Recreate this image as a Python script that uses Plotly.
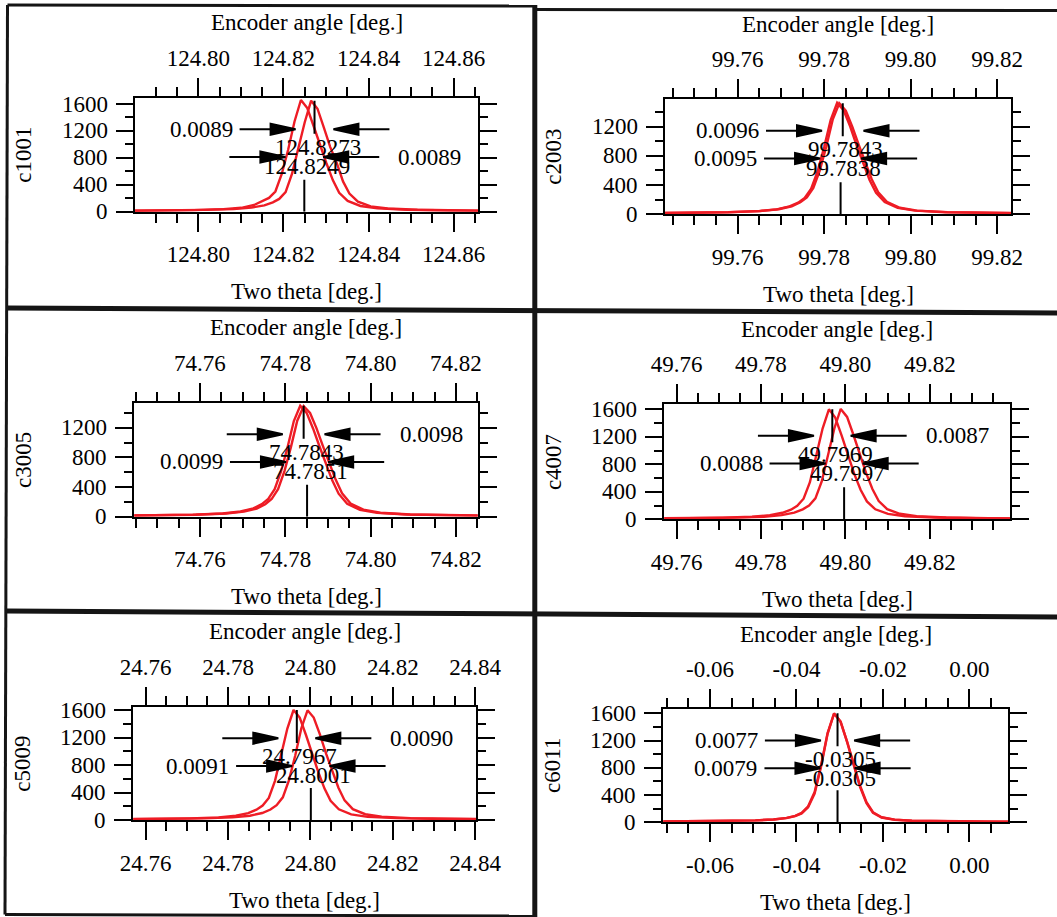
import plotly.graph_objects as go

W, H = 1057, 917

# ---------------------------------------------------------------- data
CHANNELS = ["c1001", "c2003", "c3005", "c4007", "c5009", "c6011"]

# fitted peak positions [deg.] (upper tag / lower tag)
PEAK_UPPER = [124.8273, 99.7843, 74.7843, 49.7969, 24.7967, -0.0305]
PEAK_LOWER = [124.8249, 99.7838, 74.7851, 49.7997, 24.8001, -0.0305]

# full widths at half maximum [deg.]
FWHM_UPPER = [0.0089, 0.0096, 0.0098, 0.0087, 0.0090, 0.0077]
FWHM_LOWER = [0.0089, 0.0095, 0.0099, 0.0088, 0.0091, 0.0079]

X_TICKS = [
    ["124.80", "124.82", "124.84", "124.86"],
    ["99.76", "99.78", "99.80", "99.82"],
    ["74.76", "74.78", "74.80", "74.82"],
    ["49.76", "49.78", "49.80", "49.82"],
    ["24.76", "24.78", "24.80", "24.82", "24.84"],
    ["-0.06", "-0.04", "-0.02", "0.00"],
]
Y_TICKS = [0, 400, 800, 1200, 1600]

X_RANGES = [
    [124.7851, 124.8658],
    [99.7432, 99.8232],
    [74.7446, 74.8251],
    [49.7571, 49.8390],
    [24.7570, 24.8402],
    [-0.0708, 0.0090],
]
Y_MAX = [1694, 1574, 1537, 1673, 1648, 1664]

# scan positions relative to the fitted peak position [deg.]
OFFSETS = [-0.046, -0.036, -0.026, -0.019, -0.0148, -0.0118, -0.0098, -0.0083,
           -0.0068, -0.0053, -0.0038, -0.0023, -0.0008, 0.0007, 0.0022, 0.0037,
           0.0052, 0.0067, 0.0082, 0.0102, 0.0132, 0.0172, 0.0242, 0.0342, 0.0442]

# counts of the scan tagged by the upper marker
COUNTS_UPPER = [
    [12, 18, 27, 40, 62, 95, 140, 190, 290, 560, 930, 1330, 1650, 1530, 1250, 960, 730, 450, 270, 150, 80, 48, 28, 17, 12],
    [14, 20, 30, 45, 70, 110, 165, 230, 360, 600, 930, 1300, 1520, 1420, 1200, 950, 710, 480, 300, 170, 90, 50, 30, 18, 12],
    [12, 18, 28, 44, 70, 112, 170, 240, 370, 610, 930, 1290, 1495, 1400, 1190, 950, 720, 490, 310, 175, 92, 52, 30, 18, 12],
    [10, 15, 24, 38, 60, 95, 140, 195, 300, 540, 910, 1320, 1600, 1480, 1220, 930, 660, 430, 260, 145, 78, 45, 27, 16, 10],
    [10, 15, 24, 38, 62, 100, 150, 210, 320, 570, 930, 1330, 1600, 1490, 1240, 960, 700, 460, 280, 155, 82, 46, 27, 16, 10],
    [8, 12, 18, 28, 42, 62, 90, 130, 220, 420, 820, 1300, 1600, 1480, 1180, 830, 520, 280, 140, 70, 38, 22, 14, 10, 8],
]
# counts of the scan tagged by the lower marker
COUNTS_LOWER = [
    [10, 15, 24, 38, 58, 100, 160, 205, 300, 560, 920, 1340, 1660, 1540, 1270, 980, 720, 470, 280, 160, 85, 50, 30, 18, 12],
    [13, 19, 29, 44, 68, 108, 160, 225, 350, 590, 920, 1290, 1525, 1425, 1205, 945, 700, 470, 295, 168, 88, 50, 29, 18, 12],
    [12, 17, 27, 43, 68, 110, 168, 238, 372, 615, 935, 1295, 1490, 1398, 1195, 955, 730, 500, 315, 178, 95, 53, 30, 18, 12],
    [10, 15, 24, 38, 60, 98, 145, 200, 305, 550, 915, 1325, 1605, 1490, 1230, 940, 675, 440, 265, 148, 80, 46, 27, 16, 10],
    [10, 15, 24, 38, 62, 102, 152, 215, 330, 580, 935, 1335, 1595, 1490, 1245, 965, 710, 470, 285, 158, 84, 47, 27, 16, 10],
    [8, 12, 18, 28, 42, 64, 94, 138, 235, 445, 840, 1310, 1595, 1480, 1190, 850, 540, 295, 148, 74, 40, 23, 14, 10, 8],
]

# side on which each FWHM value is written
SIDE_UPPER = ["left", "left", "right", "right", "right", "left"]
SIDE_LOWER = ["right", "left", "left", "left", "left", "left"]

# ---------------------------------------------------------------- layout
# plot frames in page pixels: left, top, right, bottom
FRAMES = [
    (135.0, 97.7, 478.3, 211.7),
    (665.0, 99.3, 1011.0, 214.3),
    (134.3, 402.7, 477.7, 516.7),
    (664.3, 404.3, 1010.0, 519.3),
    (133.3, 706.7, 476.0, 820.0),
    (663.3, 709.0, 1008.3, 822.3),
]

FONT = dict(family="Liberation Serif, Times New Roman, serif", size=23, color="black")
RED = "#ee1c25"
INK = "black"

ARROW_LEN, HEAD_LEN, HEAD_HW = 56, 25, 5.5
UPPER_ARROW_DY, LOWER_ARROW_DY = 31.5, 59.3
LABEL1_DY, LABEL2_DY = 50, 69
YLABEL_GAP = 25


def px(x):
    return x / W


def py(y):
    return 1 - y / H


fig = go.Figure()
layout = dict(
    width=W, height=H, margin=dict(l=0, r=0, t=0, b=0, pad=0, autoexpand=False),
    paper_bgcolor="white", plot_bgcolor="white", showlegend=False,
    font=FONT,
)
shapes, annotations = [], []

for i in range(6):
    n = i + 1
    xa, ya, xt = f"x{n}", f"y{n}", f"x{n + 6}"
    fx0, fy0, fx1, fy1 = FRAMES[i]

    tickvals = [float(t) for t in X_TICKS[i]]
    x_common = dict(
        range=X_RANGES[i], tickmode="array", tickvals=tickvals, ticktext=X_TICKS[i],
        ticks="outside", ticklen=18, tickwidth=2, tickcolor=INK,
        minor=dict(tickmode="linear", tick0=0, dtick=0.005, ticks="outside",
                   ticklen=9, tickwidth=2, tickcolor=INK),
        showline=True, linewidth=2, linecolor=INK, showgrid=False, zeroline=False,
        tickfont=FONT, automargin=False, ticklabelstandoff=3,
    )
    layout[f"xaxis{n}"] = dict(domain=[px(fx0), px(fx1)], anchor=ya, **x_common)
    layout[f"xaxis{n + 6}"] = dict(overlaying=xa, side="top", anchor=ya, **x_common)
    layout[f"yaxis{n}"] = dict(
        domain=[py(fy1), py(fy0)], anchor=xa, range=[0, Y_MAX[i]],
        tickmode="array", tickvals=Y_TICKS, showticklabels=False,
        ticks="outside", ticklen=17, tickwidth=2, tickcolor=INK,
        minor=dict(tickmode="linear", tick0=0, dtick=200, ticks="outside",
                   ticklen=8, tickwidth=2, tickcolor=INK),
        showline=True, mirror="ticks", linewidth=2, linecolor=INK,
        showgrid=False, zeroline=False, automargin=False,
    )
    # count labels on the left axis
    for v in Y_TICKS:
        if v <= Y_MAX[i]:
            annotations.append(dict(xref="paper", yref=ya, x=px(fx0 - YLABEL_GAP), y=v,
                                    text=str(v), showarrow=False, xanchor="right",
                                    yanchor="middle", font=FONT))

    # the two scans
    for centre, counts in ((PEAK_LOWER[i], COUNTS_LOWER[i]), (PEAK_UPPER[i], COUNTS_UPPER[i])):
        fig.add_trace(go.Scatter(
            x=[centre + o for o in OFFSETS], y=counts, mode="lines",
            line=dict(color=RED, width=2.4), xaxis=xa, yaxis=ya, hoverinfo="skip",
        ))
    # keeps the encoder-angle axis attached to this subplot
    fig.add_trace(go.Scatter(x=[X_RANGES[i][0]], y=[None], mode="lines",
                             xaxis=xt, yaxis=ya, hoverinfo="skip"))

    # peak tags
    shapes.append(dict(type="line", xref=xa, yref=ya, x0=PEAK_UPPER[i], x1=PEAK_UPPER[i],
                       ysizemode="pixel", yanchor=max(COUNTS_UPPER[i]), y0=0, y1=-33,
                       line=dict(color=INK, width=2)))
    shapes.append(dict(type="line", xref=xa, yref=ya, x0=PEAK_LOWER[i], x1=PEAK_LOWER[i],
                       ysizemode="pixel", yanchor=0, y0=0, y1=32,
                       line=dict(color=INK, width=2)))
    for val, dy in ((PEAK_UPPER[i], LABEL1_DY), (PEAK_LOWER[i], LABEL2_DY)):
        annotations.append(dict(xref=xa, yref="paper", x=val, y=py(fy0 + dy),
                                text=f"{val:.4f}", showarrow=False, xanchor="center",
                                yanchor="middle", xshift=3, font=FONT))

    # FWHM arrows
    for centre, fwhm, side, dy in (
        (PEAK_UPPER[i], FWHM_UPPER[i], SIDE_UPPER[i], UPPER_ARROW_DY),
        (PEAK_LOWER[i], FWHM_LOWER[i], SIDE_LOWER[i], LOWER_ARROW_DY),
    ):
        yp = py(fy0 + dy)
        for tip, s in ((centre - fwhm / 2, 1), (centre + fwhm / 2, -1)):
            path = (f"M{-s * ARROW_LEN},0 L{-s * HEAD_LEN},0 "
                    f"M{-s * HEAD_LEN},{-HEAD_HW} L0,0 L{-s * HEAD_LEN},{HEAD_HW} Z")
            shapes.append(dict(type="path", xref=xa, yref="paper", xsizemode="pixel",
                               ysizemode="pixel", xanchor=tip, yanchor=yp, path=path,
                               fillcolor=INK, line=dict(color=INK, width=2)))
        if side == "left":
            annotations.append(dict(xref=xa, yref="paper", x=centre - fwhm / 2, y=yp,
                                    text=f"{fwhm:.4f}", showarrow=False, xanchor="right",
                                    yanchor="middle", xshift=-(ARROW_LEN + 5), font=FONT))
        else:
            annotations.append(dict(xref=xa, yref="paper", x=centre + fwhm / 2, y=yp,
                                    text=f"{fwhm:.4f}", showarrow=False, xanchor="left",
                                    yanchor="middle", xshift=ARROW_LEN + 17, font=FONT))

    # axis titles and channel name
    cx = px((fx0 + fx1) / 2)
    annotations.append(dict(xref="paper", yref="paper", x=cx, y=py(fy0 - 75),
                            text="Encoder angle [deg.]", showarrow=False,
                            xanchor="center", yanchor="middle", font=FONT))
    annotations.append(dict(xref="paper", yref="paper", x=cx, y=py(fy1 + 80),
                            text="Two theta [deg.]", showarrow=False,
                            xanchor="center", yanchor="middle", font=FONT))
    annotations.append(dict(xref="paper", yref="paper", x=px(fx0 - 111), y=py((fy0 + fy1) / 2),
                            text=CHANNELS[i], showarrow=False, textangle=-90,
                            xanchor="center", yanchor="middle", font=FONT))

# panel borders
BORDERS = [
    ((7.5, 5.0), (534.0, 6.0), 3),
    ((534.0, 9.5), (1057.0, 10.5), 3),
    ((7.5, 5.0), (5.0, 914.5), 3),
    ((534.8, 5.0), (534.8, 917.0), 5),
    ((7.0, 308.0), (1057.0, 313.0), 5),
    ((7.0, 611.0), (1057.0, 617.0), 5),
    ((5.0, 914.5), (534.0, 916.0), 3),
]
for (ax0, ay0), (ax1, ay1), wdt in BORDERS:
    shapes.append(dict(type="line", xref="paper", yref="paper",
                       x0=px(ax0), y0=py(ay0), x1=px(ax1), y1=py(ay1),
                       line=dict(color="#151515", width=wdt)))

layout["shapes"] = shapes
layout["annotations"] = annotations
fig.update_layout(**layout)
fig.write_html("out.html")
